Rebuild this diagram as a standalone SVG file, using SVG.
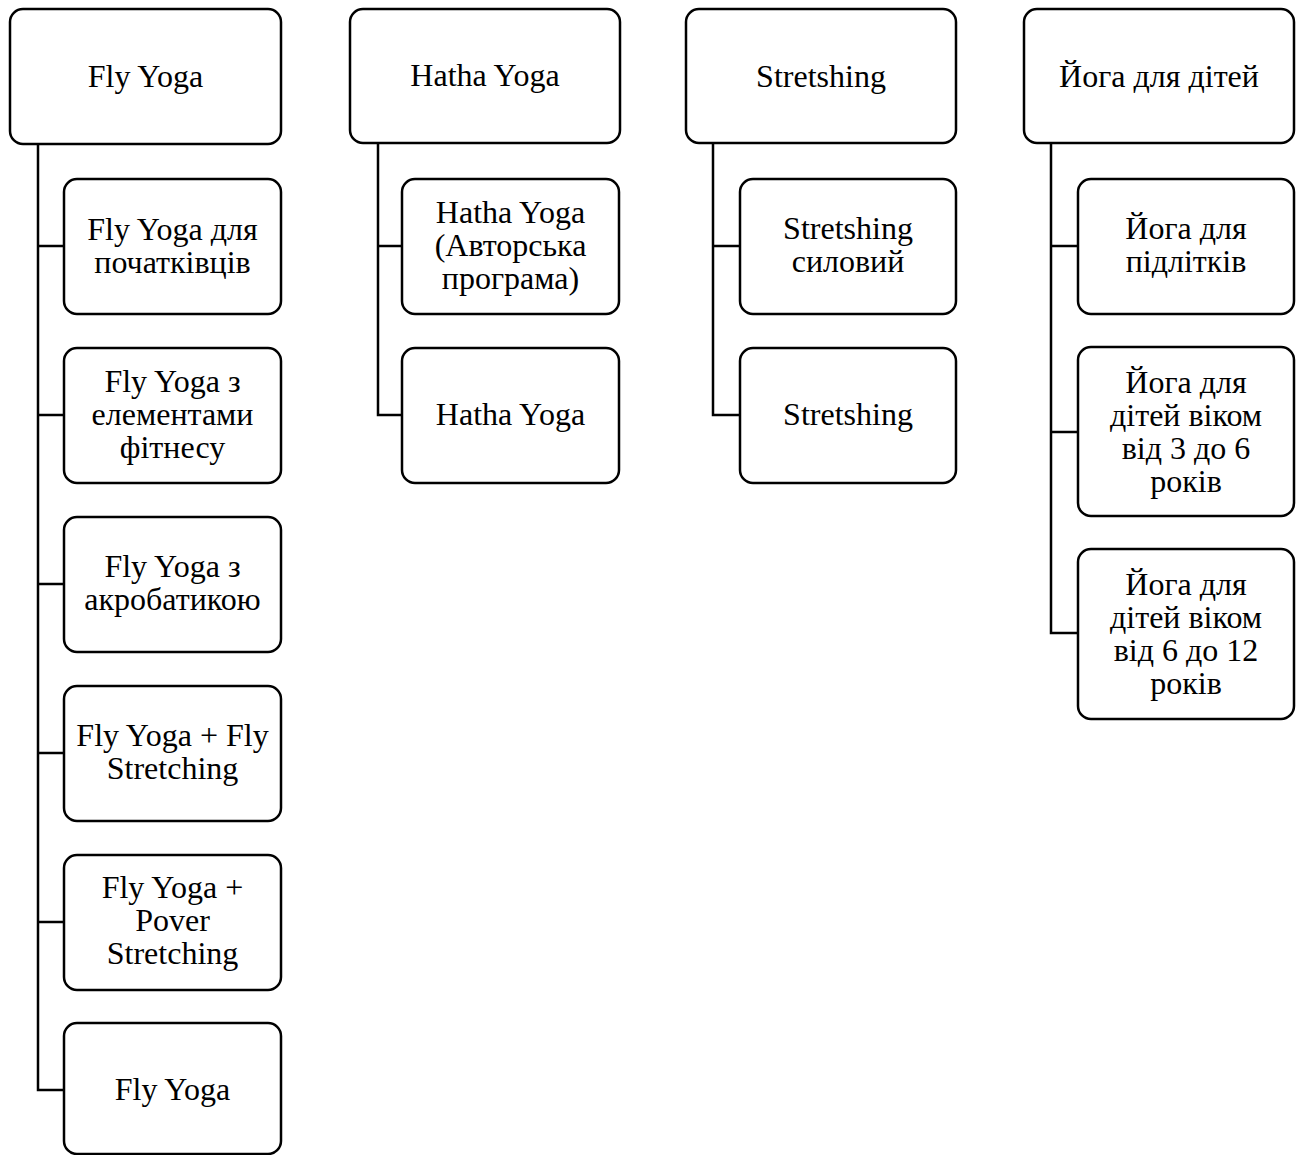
<svg xmlns="http://www.w3.org/2000/svg" width="1302" height="1155" viewBox="0 0 1302 1155">
<style>
.box{fill:#fff;stroke:#000;stroke-width:2.5}
.t{font-family:"Liberation Serif","Times New Roman",serif;font-size:32px;fill:#000;text-anchor:middle}
.c{fill:none;stroke:#000;stroke-width:2.5}
</style>
<rect width="1302" height="1155" fill="#fff"/>
<g id="connectors">
<path class="c" d="M38 144V1090H64M38 246H64M38 415H64M38 584H64M38 753H64M38 922H64"/>
<path class="c" d="M378 143V415H402M378 246H402"/>
<path class="c" d="M713 143V415H740M713 246H740"/>
<path class="c" d="M1051 143V633H1078M1051 246H1078M1051 432H1078"/>
</g>
<g id="n-fly"><rect class="box" x="10" y="9" width="271" height="135" rx="13"/><text class="t" x="145.5" y="87">Fly Yoga</text></g>
<g id="n-fly1"><rect class="box" x="64" y="179" width="217" height="135" rx="13"/><text class="t" x="172.5" y="240">Fly Yoga для</text><text class="t" x="172.5" y="273">початківців</text></g>
<g id="n-fly2"><rect class="box" x="64" y="348" width="217" height="135" rx="13"/><text class="t" x="172.5" y="392">Fly Yoga з</text><text class="t" x="172.5" y="425">елементами</text><text class="t" x="172.5" y="458">фітнесу</text></g>
<g id="n-fly3"><rect class="box" x="64" y="517" width="217" height="135" rx="13"/><text class="t" x="172.5" y="577">Fly Yoga з</text><text class="t" x="172.5" y="610">акробатикою</text></g>
<g id="n-fly4"><rect class="box" x="64" y="686" width="217" height="135" rx="13"/><text class="t" x="172.5" y="746">Fly Yoga + Fly</text><text class="t" x="172.5" y="779">Stretching</text></g>
<g id="n-fly5"><rect class="box" x="64" y="855" width="217" height="135" rx="13"/><text class="t" x="172.5" y="898">Fly Yoga +</text><text class="t" x="172.5" y="931">Pover</text><text class="t" x="172.5" y="964">Stretching</text></g>
<g id="n-fly6"><rect class="box" x="64" y="1023" width="217" height="131" rx="13"/><text class="t" x="172.5" y="1100">Fly Yoga</text></g>
<g id="n-hatha"><rect class="box" x="350" y="9" width="270" height="134" rx="13"/><text class="t" x="485" y="86">Hatha Yoga</text></g>
<g id="n-hatha1"><rect class="box" x="402" y="179" width="217" height="135" rx="13"/><text class="t" x="510.5" y="223">Hatha Yoga</text><text class="t" x="510.5" y="256">(Авторська</text><text class="t" x="510.5" y="289">програма)</text></g>
<g id="n-hatha2"><rect class="box" x="402" y="348" width="217" height="135" rx="13"/><text class="t" x="510.5" y="425">Hatha Yoga</text></g>
<g id="n-str"><rect class="box" x="686" y="9" width="270" height="134" rx="13"/><text class="t" x="821" y="87">Stretshing</text></g>
<g id="n-str1"><rect class="box" x="740" y="179" width="216" height="135" rx="13"/><text class="t" x="848" y="239">Stretshing</text><text class="t" x="848" y="272">силовий</text></g>
<g id="n-str2"><rect class="box" x="740" y="348" width="216" height="135" rx="13"/><text class="t" x="848" y="425">Stretshing</text></g>
<g id="n-kids"><rect class="box" x="1024" y="9" width="270" height="134" rx="13"/><text class="t" x="1159" y="87">Йога для дітей</text></g>
<g id="n-kids1"><rect class="box" x="1078" y="179" width="216" height="135" rx="13"/><text class="t" x="1186" y="239">Йога для</text><text class="t" x="1186" y="272">підлітків</text></g>
<g id="n-kids2"><rect class="box" x="1078" y="347" width="216" height="169" rx="13"/><text class="t" x="1186" y="393">Йога для</text><text class="t" x="1186" y="426">дітей віком</text><text class="t" x="1186" y="459">від 3 до 6</text><text class="t" x="1186" y="492">років</text></g>
<g id="n-kids3"><rect class="box" x="1078" y="549" width="216" height="170" rx="13"/><text class="t" x="1186" y="595">Йога для</text><text class="t" x="1186" y="628">дітей віком</text><text class="t" x="1186" y="661">від 6 до 12</text><text class="t" x="1186" y="694">років</text></g>
</svg>
